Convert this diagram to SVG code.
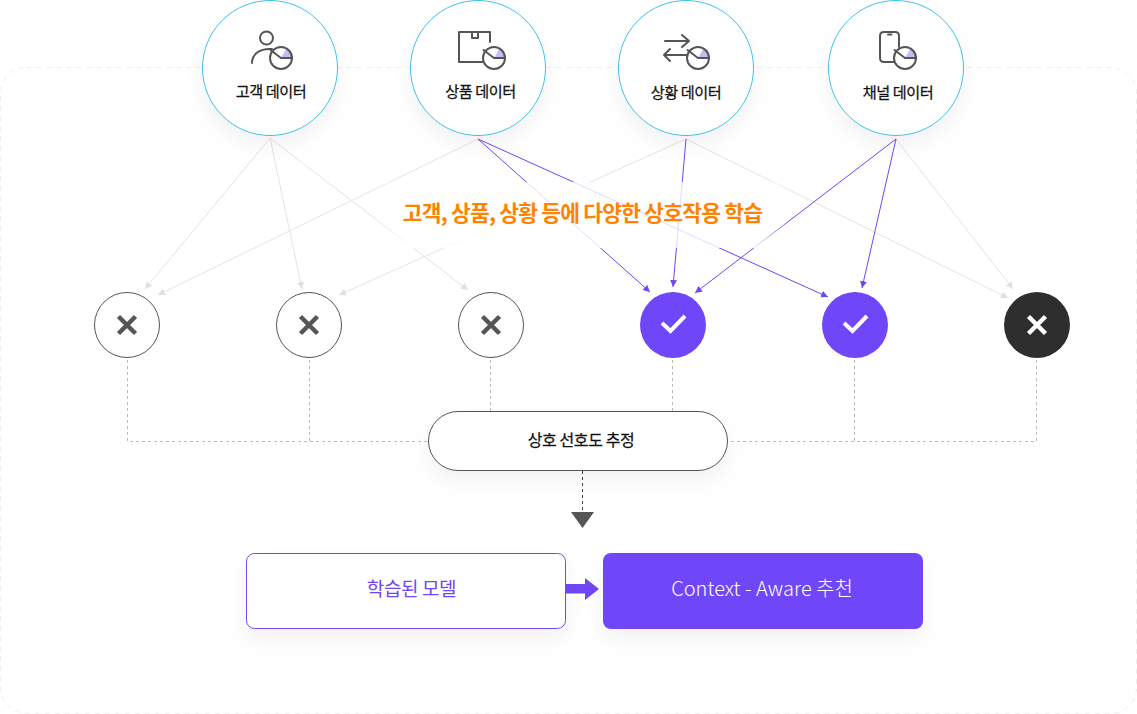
<svg xmlns="http://www.w3.org/2000/svg" width="1137" height="714" viewBox="0 0 1137 714">
<style>
text{font-family:"Noto Sans CJK KR","Noto Sans",sans-serif;text-anchor:middle}
.src{fill:#fff;stroke:#3cc3e6;stroke-width:1;filter:url(#sh)}
.lbl{font-size:15.200px;font-weight:400;fill:#111;stroke:#111;stroke-width:.25px;letter-spacing:-.5px}
.ic{fill:none;stroke:#555;stroke-width:2;stroke-linecap:round;stroke-linejoin:round}
.w{fill:#c9b9f6}
.g{fill:none;stroke:#e3e3e3;stroke-width:1;marker-end:url(#ag)}
.p{fill:none;stroke:#6f46f8;stroke-width:1;marker-end:url(#ap)}
.d{fill:none;stroke:#bbb;stroke-width:1;stroke-dasharray:3 3}
.x{fill:none;stroke:#555;stroke-width:4.500}
.xw{fill:none;stroke:#fff;stroke-width:4.500}
.c{fill:none;stroke:#fff;stroke-width:4}
</style>
<defs>
<filter id="sh" x="-40%" y="-40%" width="180%" height="200%"><feDropShadow dx="0" dy="10" stdDeviation="10" flood-color="#000" flood-opacity=".05"/></filter>
<marker id="ag" markerUnits="userSpaceOnUse" markerWidth="8" markerHeight="8" refX="7" refY="4" orient="auto"><path d="M0 0.5L7 4L0 7.500z" fill="#e0e0e0"/></marker>
<marker id="ap" markerUnits="userSpaceOnUse" markerWidth="8" markerHeight="8" refX="7" refY="4" orient="auto"><path d="M0 0.5L7 4L0 7.500z" fill="#6f46f8"/></marker>
<linearGradient id="fade" x1="0" x2="1" y1="0" y2="0"><stop offset="0" stop-color="#fff" stop-opacity="0"/><stop offset=".08" stop-color="#fff" stop-opacity=".8"/><stop offset=".92" stop-color="#fff" stop-opacity=".8"/><stop offset="1" stop-color="#fff" stop-opacity="0"/></linearGradient>
</defs>
<rect id="frame" x=".5" y="67.500" width="1136" height="646" rx="26" fill="#fff" stroke="#eeeeee" stroke-dasharray="5 5"/>
<g id="connectors">
<path class="g" d="M270 138L145 289"/><path class="g" d="M270 138L302 289"/><path class="g" d="M270 138L468 290"/>
<path class="g" d="M478 139L158 295"/><path class="g" d="M686 139L339 295"/><path class="g" d="M686 139L1008 298"/><path class="g" d="M896 139L1013 289"/>
<path class="p" d="M478 139L650 292"/><path class="p" d="M478 139L828 297"/><path class="p" d="M686 139L673 287"/><path class="p" d="M896 139L695 293"/><path class="p" d="M896 139L862 288"/>
<path class="d" d="M127.500 360V441.500H428"/><path class="d" d="M309.500 360V441"/><path class="d" d="M490.500 360V411"/><path class="d" d="M672.500 360V411"/><path class="d" d="M854.500 360V441"/><path class="d" d="M1036.500 360V441.500H728"/>
<path d="M582.500 471V511" fill="none" stroke="#444" stroke-dasharray="3 3"/>
<path d="M571 512H594L582.500 528z" fill="#555"/>
<path d="M566 584H585V578L599 589L585 600V593.500H566z" fill="#7047f8"/>
</g>
<rect id="label-glow" x="375" y="182" width="415" height="66" fill="url(#fade)"/>
<text id="headline" x="582.500" y="221" font-size="21.500" font-weight="700" style="fill:#ff8200;letter-spacing:-.8px">고객, 상품, 상황 등에 다양한 상호작용 학습</text>
<g id="src-customer"><circle class="src" cx="270" cy="68" r="67.500"/>
<circle class="ic" cx="266.500" cy="38" r="6.500"/><path class="ic" d="M252 63C252 54 260 48 272 49"/>
<path class="w" d="M281 58L286.500 48.500A11 11 0 0 1 292 58z"/><circle class="ic" cx="281" cy="58" r="11"/><path class="ic" d="M270.500 50L281 58H292"/>
<text class="lbl" x="271" y="97">고객 데이터</text></g>
<g id="src-product"><circle class="src" cx="478" cy="68" r="67.500"/>
<path class="ic" d="M490 42V32H459V62H483M472 32V38H478V32"/>
<path class="w" d="M494 58L499.500 48.500A11 11 0 0 1 505 58z"/><circle class="ic" cx="494" cy="58" r="11"/><path class="ic" d="M483.500 50L494 58H505"/>
<text class="lbl" x="480.500" y="97">상품 데이터</text></g>
<g id="src-context"><circle class="src" cx="686" cy="68" r="67.500"/>
<path class="ic" d="M665 41H689M682 35L689 41L682 47M687 55H664M670 49L664 55L670 61"/>
<path class="w" d="M698 58L703.500 48.500A11 11 0 0 1 709 58z"/><circle class="ic" cx="698" cy="58" r="11"/><path class="ic" d="M687.500 50L698 58H709"/>
<text class="lbl" x="686" y="98">상황 데이터</text></g>
<g id="src-channel"><circle class="src" cx="896" cy="68" r="67.500"/>
<path class="ic" d="M899 47V36Q899 32 895 32H884Q880 32 880 36V58Q880 62 884 62H894"/><path class="ic" d="M888 34.500H891.500" stroke-width="1.500"/>
<path class="w" d="M905 58L910.500 48.500A11 11 0 0 1 916 58z"/><circle class="ic" cx="905" cy="58" r="11"/><path class="ic" d="M894.500 50L905 58H916"/>
<text class="lbl" x="898" y="98">채널 데이터</text></g>
<g id="r1"><circle cx="127" cy="325" r="32.500" fill="#fff" stroke="#555"/><path class="x" d="M118.500 316.500L135.500 333.500M135.500 316.500L118.500 333.500"/></g>
<g id="r2"><circle cx="309" cy="325" r="32.500" fill="#fff" stroke="#555"/><path class="x" d="M300.500 316.500L317.500 333.500M317.500 316.500L300.500 333.500"/></g>
<g id="r3"><circle cx="491" cy="325" r="32.500" fill="#fff" stroke="#555"/><path class="x" d="M482.500 316.500L499.500 333.500M499.500 316.500L482.500 333.500"/></g>
<g id="r4"><circle cx="673" cy="325" r="33" fill="#7047f8"/><path class="c" d="M662 323L670.500 331L685 316"/></g>
<g id="r5"><circle cx="855" cy="325" r="33" fill="#7047f8"/><path class="c" d="M844 323L852.500 331L867 316"/></g>
<g id="r6"><circle cx="1037" cy="325" r="33" fill="#2e2e2e"/><path class="xw" d="M1028.500 316.500L1045.500 333.500M1045.500 316.500L1028.500 333.500"/></g>
<g id="estimate"><rect x="428.500" y="411.500" width="299" height="59" rx="29.500" fill="#fff" stroke="#555" filter="url(#sh)"/><text x="581" y="445.500" font-size="16" style="fill:#111;stroke:#111;stroke-width:.25px;letter-spacing:-.4px">상호 선호도 추정</text></g>
<g id="model"><rect x="246.500" y="553.500" width="319" height="75" rx="8" fill="#fff" stroke="#7047f8" filter="url(#sh)"/><text x="411.500" y="596" font-size="19" style="fill:#7047f8;letter-spacing:-.4px">학습된 모델</text></g>
<g id="reco"><rect x="603" y="553" width="320" height="76" rx="8" fill="#7047f8" filter="url(#sh)"/><text x="762" y="596" font-size="20" font-weight="300" style="fill:#fff;letter-spacing:0">Context - Aware 추천</text></g>
</svg>
